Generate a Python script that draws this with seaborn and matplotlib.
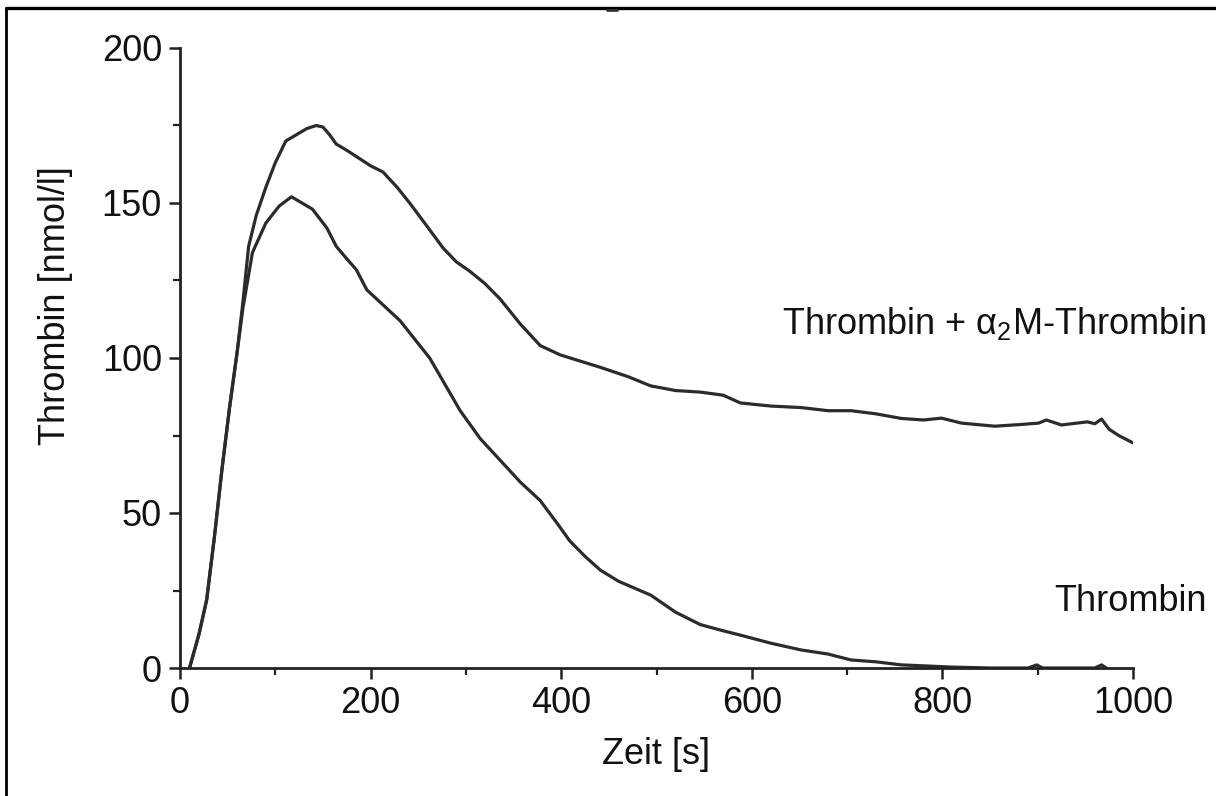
import numpy as np
import pandas as pd
import matplotlib
matplotlib.use("Agg")
import matplotlib.pyplot as plt
from matplotlib.ticker import MultipleLocator
from matplotlib.lines import Line2D
import seaborn as sns

# ---- data ----
time_combined = [10, 20, 28, 36, 44, 52, 60, 66, 72, 80, 90, 100, 111, 122, 133, 143, 150, 157,
                 164, 175, 185, 200, 213, 228, 241, 258, 276, 290, 304, 320, 336, 357, 378, 399,
                 420, 441, 470, 494, 520, 546, 570, 588, 620, 652, 680, 704, 730, 757, 780, 799,
                 820, 855, 880, 901, 909, 925, 952, 960, 967, 975, 985, 1000]
thrombin_combined = [0, 11, 22, 42, 64, 84, 102, 118, 136, 146, 155, 163, 170, 172, 174, 175, 174.5, 172,
                     169, 167, 165, 162, 160, 155, 150, 143, 135.5, 131, 128, 124, 119, 111, 104, 101,
                     99, 97, 94, 91, 89.5, 89, 88, 85.5, 84.5, 84, 83, 83, 82, 80.5, 80, 80.6,
                     79, 78, 78.5, 79, 80, 78.4, 79.4, 78.8, 80.3, 77, 75, 72.6]

time_thrombin = [10, 20, 28, 36, 44, 52, 60, 66, 76, 90, 104, 117, 128, 139, 154, 164, 175, 185,
                 196, 210, 231, 262, 294, 315, 336, 357, 378, 395, 409, 425, 441, 460, 494, 520,
                 546, 570, 588, 620, 652, 680, 704, 730, 757, 780, 809, 850, 890, 899, 905, 940,
                 960, 967, 972]
thrombin_only = [0, 11, 22, 42, 64, 84, 102, 116, 134, 143.5, 149, 152, 150, 148, 142, 136, 132, 128.5,
                 122, 118, 112, 100, 83, 74, 67, 60, 54, 47, 41, 36, 31.6, 28, 23.5, 18,
                 14, 12, 10.6, 8, 5.8, 4.5, 2.6, 2, 1, 0.7, 0.3, 0, 0, 1, 0, 0,
                 0, 1, 0]

series_names = ["Thrombin + α2M-Thrombin", "Thrombin"]
x_ticks = [0, 200, 400, 600, 800, 1000]
y_ticks = [0, 50, 100, 150, 200]
x_label = "Zeit [s]"
y_label = "Thrombin [nmol/l]"
label_combined = r"Thrombin + $\mathregular{\alpha_2}$M-Thrombin"
label_thrombin = "Thrombin"

df = pd.concat([
    pd.DataFrame({"t": time_combined, "v": thrombin_combined, "s": series_names[0]}),
    pd.DataFrame({"t": time_thrombin, "v": thrombin_only, "s": series_names[1]}),
], ignore_index=True)

sns.set_theme(style="ticks")
plt.rcParams["font.family"] = ["Liberation Sans", "DejaVu Sans"]
plt.rcParams["mathtext.fontset"] = "custom"
plt.rcParams["mathtext.rm"] = "Liberation Sans"
plt.rcParams["mathtext.it"] = "Liberation Sans"

FS = 26
ink = "#222222"
txt = "#111111"

fig = plt.figure(figsize=(12.16, 7.96), dpi=100)
fig.patch.set_facecolor("white")
ax = fig.add_axes([180 / 1216, 1 - 668 / 796, 953 / 1216, 620 / 796])

sns.lineplot(data=df, x="t", y="v", hue="s", units="s", estimator=None,
             palette={series_names[0]: "#2b2b2b", series_names[1]: "#2b2b2b"},
             linewidth=2.3, legend=False, ax=ax, sort=True)

ax.set_xlim(0, 1000)
ax.set_ylim(0, 200)
ax.set_xticks(x_ticks)
ax.set_yticks(y_ticks)
ax.xaxis.set_minor_locator(MultipleLocator(100))
ax.yaxis.set_minor_locator(MultipleLocator(25))

for side in ["top", "right"]:
    ax.spines[side].set_visible(False)
for side in ["left", "bottom"]:
    ax.spines[side].set_linewidth(2.0)
    ax.spines[side].set_color(ink)

ax.tick_params(axis="both", which="major", length=8, width=1.8, color=ink,
               labelsize=FS, labelcolor=txt, direction="out")
ax.tick_params(axis="both", which="minor", length=5, width=1.6, color=ink, direction="out")
ax.tick_params(axis="x", which="major", pad=5)
ax.tick_params(axis="y", which="major", pad=5)

ax.set_xlabel(x_label, fontsize=FS, color=txt)
ax.set_ylabel(y_label, fontsize=FS, color=txt)
ax.xaxis.set_label_coords(0.50, -0.112)
ax.yaxis.set_label_coords(-0.112, 0.585)

ax.text(854, 107.7, label_combined, fontsize=FS, ha="center", va="baseline",
        color=txt, clip_on=False)
ax.text(997, 18.4, label_thrombin, fontsize=FS, ha="center", va="baseline",
        color=txt, clip_on=False)

# frame lines of the cropped figure
fig.add_artist(Line2D([6 / 1216, 1.0], [1 - 7.5 / 796, 1 - 7.5 / 796],
                      transform=fig.transFigure, color="black", linewidth=2.4))
fig.add_artist(Line2D([6 / 1216, 6 / 1216], [0, 1 - 7.5 / 796],
                      transform=fig.transFigure, color="black", linewidth=2.0))
fig.add_artist(Line2D([607 / 1216, 617 / 1216], [1 - 10 / 796, 1 - 10 / 796],
                      transform=fig.transFigure, color="#333333", linewidth=2.0))

fig.savefig("out.png", dpi=100, facecolor="white")
